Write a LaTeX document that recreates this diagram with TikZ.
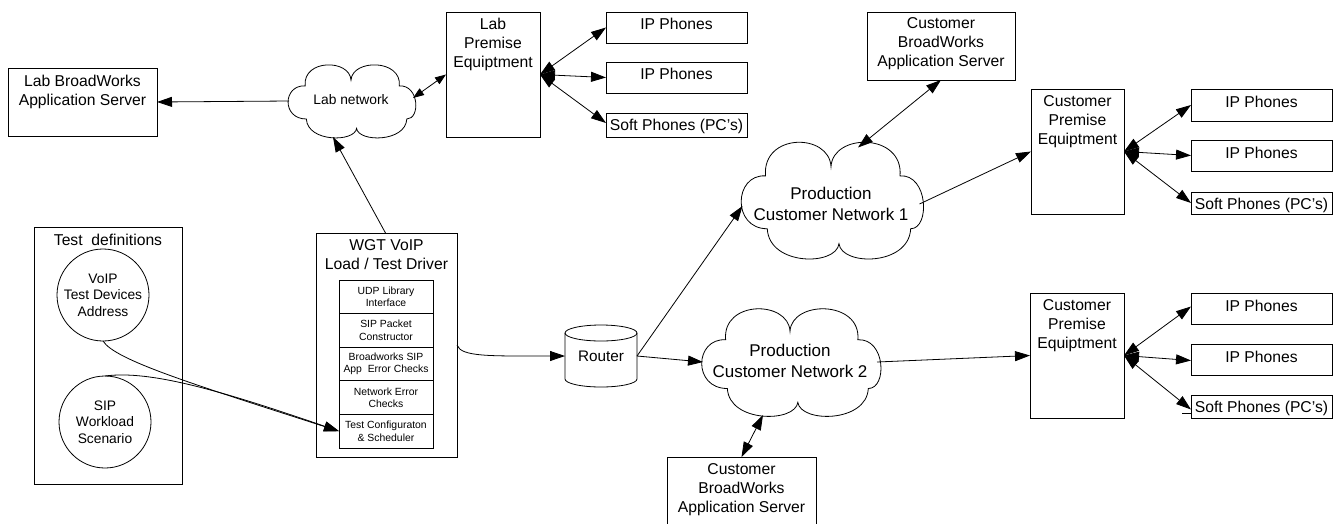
\documentclass[tikz,border=0pt]{standalone}
\usepackage{fontspec}
\setmainfont{Liberation Sans}
\usetikzlibrary{arrows.meta,shapes.geometric}
\begin{document}
\begin{tikzpicture}[x=1pt,y=-1pt,
  every node/.style={inner sep=0pt,outer sep=0pt},
  box/.style={draw,line width=0.8pt,rectangle},
  txt/.style={font=\fontsize{15.7}{19}\selectfont,align=center,anchor=north},
  small/.style={font=\fontsize{10.4}{12.5}\selectfont,align=center},
  circtxt/.style={font=\fontsize{13.8}{16.5}\selectfont,align=center},
  cloudtxt/.style={font=\fontsize{17}{21}\selectfont,align=center},
  cell/.style={draw,line width=0.8pt,minimum width=94pt,minimum height=33.6pt,small},
  arr/.style={line width=0.8pt,-{Triangle[length=15pt,width=10pt]}},
  darr/.style={line width=0.8pt,{Triangle[length=15pt,width=10pt]}-{Triangle[length=15pt,width=10pt]}},
  sdarr/.style={line width=0.8pt,{Triangle[length=11pt,width=8pt]}-{Triangle[length=11pt,width=8pt]}},
  plain/.style={line width=0.8pt},
  vcloud/.pic={\draw[line width=0.8pt,fill=white]
    (-0.74,-0.42) .. controls (-0.78,-1.17) and (-0.02,-1.17) .. (0,-0.58)
    .. controls (0.02,-1.17) and (0.82,-1.17) .. (0.78,-0.42)
    .. controls (1.1,-0.45) and (1.12,0.5) .. (0.9,0.5)
    .. controls (0.88,1.15) and (0.12,1.15) .. (0.09,0.76)
    .. controls (0.06,1.15) and (-0.7,1.15) .. (-0.72,0.5)
    .. controls (-1.12,0.5) and (-1.1,-0.45) .. (-0.74,-0.42) -- cycle;}
]
\useasboundingbox (0,0) rectangle (1338,523);
\fill[white] (0,0) rectangle (1338,523);

% Lab side
\node[box,minimum width=149pt,minimum height=68pt] (labas) at (82.5,102) {};
\node[txt] (labast) at ([yshift=-7pt]labas.north) {Lab BroadWorks\\Application Server};
\node[minimum width=124pt,minimum height=72pt] (labnet) at (351,101) {};
\pic[xscale=62,yscale=36] at (labnet.center) {vcloud};
\node[font=\fontsize{13.8}{16}\selectfont] (labnett) at (351,100) {Lab network};
\node[box,minimum width=94pt,minimum height=125pt] (labpe) at (493,74.5) {};
\node[txt] (labpet) at ([yshift=-6pt]labpe.north) {Lab\\Premise\\Equiptment};
\node[box,minimum width=141pt,minimum height=31pt] (lip1) at (676.5,27.5) {};
\node[txt] (lip1t) at ([yshift=-6pt]lip1.north) {IP Phones};
\node[box,minimum width=141pt,minimum height=31pt] (lip2) at (676.5,77.5) {};
\node[txt] (lip2t) at ([yshift=-6pt]lip2.north) {IP Phones};
\node[box,minimum width=141pt,minimum height=24pt] (lsoft) at (676.5,125) {};
\node[txt] (lsoftt) at ([yshift=-6pt]lsoft.north) {Soft Phones (PC's)};

% Test definitions
\node[box,minimum width=148pt,minimum height=257pt] (testdef) at (108,355.5) {};
\node[txt] (testdeft) at ([yshift=-7pt]testdef.north) {Test\ \ definitions};
\node[draw,circle,line width=0.8pt,minimum size=92pt,circtxt] (circ1) at (103,295) {VoIP\\Test Devices\\Address};
\node[draw,circle,line width=0.8pt,minimum size=92pt,circtxt] (circ2) at (105,422) {SIP\\Workload\\Scenario};

% WGT driver
\node[box,minimum width=141pt,minimum height=224pt] (wgt) at (386.5,345) {};
\node[txt] (wgtt) at ([yshift=-7pt]wgt.north) {WGT VoIP\\Load / Test Driver};
\node[cell] (c1) at (386,296.8) {UDP Library\\Interface};
\node[cell] (c2) at (386,330.4) {SIP Packet\\Constructor};
\node[cell] (c3) at (386,364.0) {Broadworks SIP\\App\ \ Error Checks};
\node[cell] (c4) at (386,397.6) {Network Error\\Checks};
\node[cell] (c5) at (386,431.2) {Test Configuraton\\\& Scheduler};

% Router
\node[minimum width=72pt,minimum height=62pt,font=\fontsize{15.3}{18}\selectfont] (router) at (601,356) {Router};
\draw[plain] ([yshift=-8pt]router.north west) -- ([yshift=8pt]router.south west)
  arc[start angle=180,end angle=360,x radius=36pt,y radius=8pt]
  -- ([yshift=-8pt]router.north east)
  arc[start angle=0,end angle=180,x radius=36pt,y radius=8pt];
\draw[plain] ([yshift=-8pt]router.north west) arc[start angle=180,end angle=360,x radius=36pt,y radius=8pt];

% Production network 1
\node[box,minimum width=148pt,minimum height=68pt] (custas1) at (941,46) {};
\node[txt] (custas1t) at ([yshift=-6pt]custas1.north) {Customer\\BroadWorks\\Application Server};
\node[minimum width=177pt,minimum height=115pt] (cloud1) at (831,200) {};
\pic[xscale=88.5,yscale=57.5] at (cloud1.center) {vcloud};
\node[cloudtxt] (cloud1t) at (831,204) {Production\\Customer Network 1};
\node[box,minimum width=93pt,minimum height=125pt] (custpe1) at (1077.5,151.5) {};
\node[txt] (custpe1t) at ([yshift=-7pt]custpe1.north) {Customer\\Premise\\Equiptment};
\node[box,minimum width=141pt,minimum height=32pt] (cip1) at (1261.5,105) {};
\node[txt] (cip1t) at ([yshift=-7pt]cip1.north) {IP Phones};
\node[box,minimum width=141pt,minimum height=31pt] (cip2) at (1261.5,155.5) {};
\node[txt] (cip2t) at ([yshift=-7pt]cip2.north) {IP Phones};
\node[box,minimum width=141pt,minimum height=22pt] (csoft1) at (1261.5,203) {};
\node[txt] (csoft1t) at ([yshift=-6pt]csoft1.north) {Soft Phones (PC's)};

% Production network 2
\node[minimum width=174pt,minimum height=106pt] (cloud2) at (790,362) {};
\pic[xscale=87,yscale=53] at (cloud2.center) {vcloud};
\node[cloudtxt] (cloud2t) at (790,361) {Production\\Customer Network 2};
\node[box,minimum width=149pt,minimum height=71pt] (custas2) at (741.5,492.5) {};
\node[txt] (custas2t) at ([yshift=-7pt]custas2.north) {Customer\\BroadWorks\\Application Server};
\node[box,minimum width=94pt,minimum height=125pt] (custpe2) at (1077,355.5) {};
\node[txt] (custpe2t) at ([yshift=-7pt]custpe2.north) {Customer\\Premise\\Equiptment};
\node[box,minimum width=141pt,minimum height=31pt] (cip3) at (1261.5,308.5) {};
\node[txt] (cip3t) at ([yshift=-7pt]cip3.north) {IP Phones};
\node[box,minimum width=141pt,minimum height=31pt] (cip4) at (1261.5,359.5) {};
\node[txt] (cip4t) at ([yshift=-7pt]cip4.north) {IP Phones};
\node[box,minimum width=141pt,minimum height=23pt] (csoft2) at (1261.5,406.5) {};
\node[txt] (csoft2t) at ([yshift=-6pt]csoft2.north) {Soft Phones (PC's)};

% Connectors: lab
\draw[arr] (labnet.west) -- (labas.east);
\draw[arr] ([xshift=-1pt]wgt.north) -- ([xshift=-18pt]labnet.south);
\draw[sdarr] ([yshift=3pt]labnet.east) -- (labpe.west);
\draw[darr] (labpe.east) -- (lip1.west);
\draw[darr] (labpe.east) -- (lip2.west);
\draw[darr] (labpe.east) -- ([yshift=2pt]lsoft.west);

% Test definitions to driver
\draw[arr] (circ1.south) .. controls ([xshift=12pt,yshift=-19pt]circ1.south) and ([xshift=-149pt,yshift=48pt]c5.west) .. (c5.west);
\draw[arr] (circ2.north) .. controls ([xshift=45pt,yshift=6pt]circ2.north) and ([xshift=-119pt,yshift=41pt]c5.west) .. (c5.west);

% Driver to router and networks
\draw[arr] (wgt.east) .. controls ([xshift=4pt,yshift=-12pt]wgt.east) and ([xshift=-75pt]router.west) .. (router.west);
\draw[arr] (router.east) -- ([yshift=-6pt]cloud1.west);
\draw[arr] (router.east) -- (cloud2.west);

% Network 1
\draw[darr] (custas1.south) -- ([xshift=27pt,yshift=-5pt]cloud1.north);
\draw[arr] ([yshift=-4pt]cloud1.east) -- (custpe1.west);
\draw[darr] (custpe1.east) -- (cip1.west);
\draw[darr] (custpe1.east) -- (cip2.west);
\draw[darr] (custpe1.east) -- (csoft1.west);

% Network 2
\draw[darr] (custas2.north) -- ([xshift=-27pt]cloud2.south);
\draw[arr] (cloud2.east) -- (custpe2.west);
\draw[darr] (custpe2.east) -- ([yshift=2pt]cip3.west);
\draw[darr] (custpe2.east) -- ([yshift=-1pt]cip4.west);
\draw[darr] (custpe2.east) -- ([yshift=-3pt]csoft2.west);
\draw[plain] ([xshift=-9pt,yshift=-7pt]csoft2.west) -- ([yshift=-7pt]csoft2.west);
\end{tikzpicture}
\end{document}
